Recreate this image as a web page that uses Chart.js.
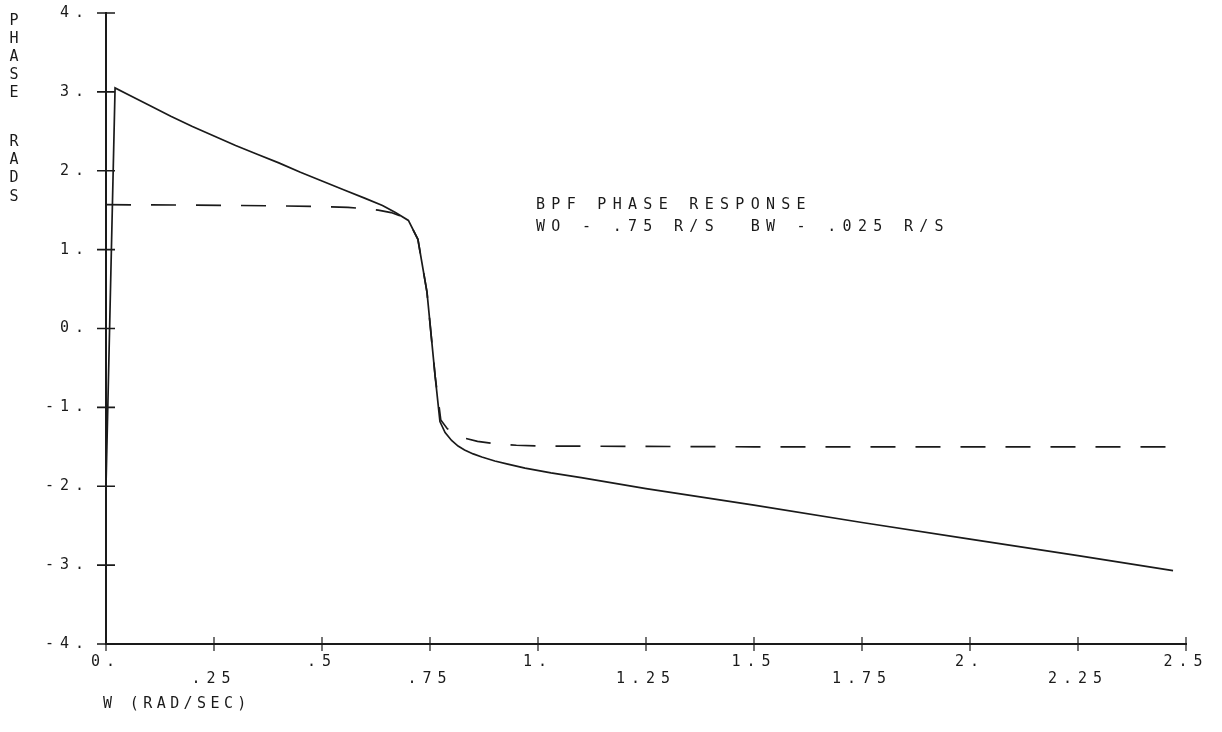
<!DOCTYPE html>
<html>
<head>
<meta charset="utf-8">
<script src="https://cdn.jsdelivr.net/npm/chart.js@4.4.1/dist/chart.umd.min.js"></script>
<style>
  html, body { margin: 0; padding: 0; background: #fff; }
  #wrap { width: 1222px; height: 732px; }
</style>
</head>
<body>
<div id="wrap"><canvas id="phaseChart" width="1222" height="732"></canvas></div>
<script>
// frequency axis ticks (rad/sec) and their printed labels
const xTicks = [0, 0.25, 0.5, 0.75, 1, 1.25, 1.5, 1.75, 2, 2.25, 2.5];
const xTickLabels = ['0.', '.25', '.5', '.75', '1.', '1.25', '1.5', '1.75', '2.', '2.25', '2.5'];
const yTickLabels = { '4': '4.', '3': '3.', '2': '2.', '1': '1.', '0': '0.', '-1': '-1.', '-2': '-2.', '-3': '-3.', '-4': '-4.' };

// solid trace: measured phase (rads)
const solidW = [0, 0.021, 0.06, 0.1, 0.15, 0.2, 0.25, 0.3, 0.35, 0.4, 0.45, 0.5, 0.55, 0.6, 0.64, 0.67,
                0.7, 0.722, 0.743, 0.762, 0.773, 0.785, 0.8, 0.815, 0.83, 0.85, 0.87, 0.9, 0.93, 0.97,
                1.03, 1.1, 1.25, 1.5, 1.75, 2.0, 2.25, 2.47];
const solidPhase = [-2.0, 3.05, 2.94, 2.83, 2.69, 2.56, 2.44, 2.32, 2.21, 2.1, 1.98, 1.87, 1.76, 1.65, 1.56, 1.47,
                    1.37, 1.13, 0.46, -0.61, -1.18, -1.32, -1.42, -1.49, -1.54, -1.59, -1.63, -1.68, -1.72, -1.77,
                    -1.83, -1.89, -2.03, -2.24, -2.46, -2.67, -2.88, -3.07];

// dashed trace: ideal band-pass phase (rads)
const dashW = [0, 0.2, 0.4, 0.5, 0.56, 0.6, 0.63, 0.66, 0.68, 0.7, 0.722, 0.743, 0.762, 0.775,
               0.79, 0.81, 0.83, 0.86, 0.9, 0.95, 1.0, 1.5, 2.0, 2.47];
const dashPhase = [1.57, 1.565, 1.555, 1.545, 1.535, 1.52, 1.5, 1.47, 1.43, 1.37, 1.13, 0.46, -0.61, -1.16,
                   -1.27, -1.34, -1.39, -1.43, -1.46, -1.48, -1.49, -1.5, -1.5, -1.5];

const INK = '#1a1a1a';
const FONT = '"DejaVu Sans Mono", monospace';
const SPACING = '6px';

const toPoints = (xs, ys) => xs.map((x, i) => ({ x, y: ys[i] }));

// plotter-style frame: crossing tick marks, caption and stacked y label
const plotterFrame = {
  id: 'plotterFrame',
  beforeLayout(chart) { chart.ctx.letterSpacing = SPACING; },
  beforeDraw(chart) {
    const ctx = chart.ctx;
    ctx.save();
    ctx.fillStyle = '#fff';
    ctx.fillRect(0, 0, chart.width, chart.height);
    ctx.restore();
    ctx.letterSpacing = SPACING;
  },
  afterDraw(chart) {
    const ctx = chart.ctx;
    const xs = chart.scales.x, ys = chart.scales.y;
    const x0 = xs.getPixelForValue(0), yb = ys.getPixelForValue(-4);
    ctx.save();
    ctx.strokeStyle = INK;
    ctx.lineWidth = 1.6;
    ctx.beginPath();
    for (let v = -4; v <= 4; v++) {
      const py = ys.getPixelForValue(v);
      ctx.moveTo(x0 - 9, py);
      ctx.lineTo(x0 + 9, py);
    }
    ctx.stroke();
    ctx.lineWidth = 1.2;
    ctx.beginPath();
    xTicks.forEach(v => {
      const px = xs.getPixelForValue(v);
      ctx.moveTo(px, yb - 7);
      ctx.lineTo(px, yb + 7);
    });
    ctx.stroke();

    ctx.fillStyle = INK;
    ctx.font = '15px ' + FONT;
    ctx.letterSpacing = '6.3px';
    ctx.textBaseline = 'alphabetic';
    ctx.textAlign = 'left';
    ctx.fillText('BPF PHASE RESPONSE', 536, 209);
    ctx.fillText('WO - .75 R/S  BW - .025 R/S', 536, 231);
    ctx.letterSpacing = '4.4px';
    ctx.fillText('W (RAD/SEC)', 103, 708);

    // vertical stacked axis name
    ctx.letterSpacing = '0px';
    ctx.textAlign = 'center';
    ctx.textBaseline = 'middle';
    const name = ['P', 'H', 'A', 'S', 'E', '', 'R', 'A', 'D', 'S'];
    name.forEach((ch, i) => {
      const cy = i < 5 ? 21 + i * 18 : 142 + (i - 6) * 18.3;
      if (ch) ctx.fillText(ch, 14, cy);
    });
    ctx.restore();
  }
};

new Chart(document.getElementById('phaseChart'), {
  type: 'line',
  data: {
    datasets: [
      {
        label: 'phase',
        data: toPoints(solidW, solidPhase),
        borderColor: INK,
        borderWidth: 1.7,
        pointRadius: 0,
        tension: 0,
        fill: false
      },
      {
        label: 'ideal',
        data: toPoints(dashW, dashPhase),
        borderColor: INK,
        borderWidth: 1.7,
        borderDash: [25, 20],
        pointRadius: 0,
        tension: 0,
        fill: false
      }
    ]
  },
  options: {
    responsive: false,
    animation: false,
    devicePixelRatio: 1,
    layout: { padding: { left: 0, top: 13, right: 36, bottom: 0 } },
    plugins: { legend: { display: false }, tooltip: { enabled: false } },
    scales: {
      x: {
        type: 'linear',
        min: 0,
        max: 2.5,
        afterBuildTicks: s => { s.ticks = xTicks.map(v => ({ value: v })); },
        afterFit: s => { s.height = 88; s.paddingLeft = 0; s.paddingRight = 0; },
        grid: { display: false, drawTicks: false },
        border: { display: true, color: INK, width: 2 },
        ticks: {
          color: INK,
          padding: 10,
          maxRotation: 0,
          autoSkip: false,
          font: { family: FONT, size: 15, lineHeight: 1.1 },
          callback: (v, i) => (i % 2 === 0 ? [xTickLabels[i], ''] : ['', xTickLabels[i]])
        }
      },
      y: {
        min: -4,
        max: 4,
        afterFit: s => { s.width = 106; s.paddingTop = 0; s.paddingBottom = 0; },
        grid: { display: false, drawTicks: false },
        border: { display: true, color: INK, width: 2 },
        ticks: {
          stepSize: 1,
          color: INK,
          padding: 16,
          font: { family: FONT, size: 15 },
          callback: v => yTickLabels[String(v)]
        }
      }
    }
  },
  plugins: [plotterFrame]
});
</script>
</body>
</html>
